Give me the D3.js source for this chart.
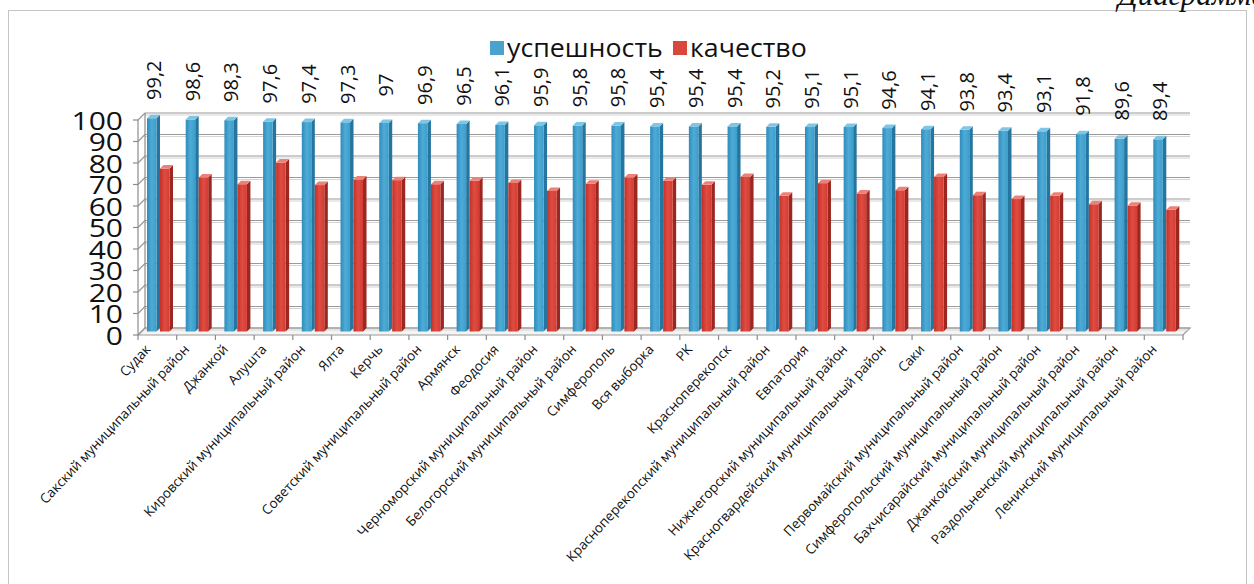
<!DOCTYPE html>
<html lang="ru">
<head>
<meta charset="UTF-8">
<title>успешность и качество</title>
<script src="https://d3js.org/d3.v7.min.js"></script>
<style>
  body { margin: 0; background: #fff; }
  text { font-family: "Open Sans", sans-serif; fill: #111; }
  .grid { stroke: #9a9a9a; stroke-width: 1.2; }
  .grid-shadow { stroke: #d4d4d4; stroke-width: 1.2; }
  .axis-line { stroke: #8c8c8c; stroke-width: 1.2; fill: none; }
</style>
</head>
<body>
<div id="chart"></div>
<script>
const categories = ["Судак", "Сакский муниципальный район", "Джанкой", "Алушта", "Кировский муниципальный район",
  "Ялта", "Керчь", "Советский муниципальный район", "Армянск", "Феодосия", "Черноморский муниципальный район",
  "Белогорский муниципальный район", "Симферополь", "Вся выборка", "РК", "Красноперекопск",
  "Красноперекопский муниципальный район", "Евпатория", "Нижнегорский муниципальный район",
  "Красногвардейский муниципальный район", "Саки", "Первомайский муниципальный район",
  "Симферопольский муниципальный район", "Бахчисарайский муниципальный район", "Джанкойский муниципальный район",
  "Раздольненский муниципальный район", "Ленинский муниципальный район"];
const uspeh = [99.2, 98.6, 98.3, 97.6, 97.4, 97.3, 97, 96.9, 96.5, 96.1, 95.9, 95.8, 95.8, 95.4, 95.4, 95.4,
  95.2, 95.1, 95.1, 94.6, 94.1, 93.8, 93.4, 93.1, 91.8, 89.6, 89.4];
const kach = [75.8, 71.6, 68.5, 78.6, 68.1, 70.7, 70.4, 68.5, 70.1, 69.1, 65.4, 68.7, 71.6, 70.1, 68.2, 71.9,
  63.1, 69.0, 64.2, 65.7, 71.9, 63.4, 61.6, 63.1, 59.2, 58.5, 56.6];
const seriesNames = ["успешность", "качество"];
const yTicks = [0, 10, 20, 30, 40, 50, 60, 70, 80, 90, 100];

const width = 1254, height = 584;
const svg = d3.select("#chart").append("svg")
  .attr("width", width).attr("height", height);

const defs = svg.append("defs");
function grad(id, stops) {
  const g = defs.append("linearGradient").attr("id", id)
    .attr("x1", "0").attr("x2", "1").attr("y1", "0").attr("y2", "0");
  stops.forEach((c, i) => g.append("stop").attr("offset", i / (stops.length - 1)).attr("stop-color", c));
}
grad("blueFront", ["#2e8cbc", "#4eabd6", "#3d9dca"]);
grad("redFront", ["#c23128", "#e04c42", "#d23c33"]);
const colors = [
  { front: "url(#blueFront)", side: "#25759f", top: "#7fc6e6", legend: "#4aa3cc" },
  { front: "url(#redFront)", side: "#9c2620", top: "#ec8178", legend: "#d9463d" }
];

// рамка и подпись страницы
svg.append("rect")
  .attr("x", 8.5).attr("y", 10.5).attr("width", 1238).attr("height", 600)
  .attr("fill", "none").attr("stroke", "#c4c4c4");
svg.append("text")
  .attr("x", 1118).attr("y", 5)
  .style("font-family", "'Liberation Serif', serif").style("font-style", "italic")
  .attr("font-size", 31).text("Диаграмма");

const x = d3.scaleBand().domain(categories).range([138, 1183]);
const y = d3.scaleLinear().domain([0, 100]).range([335, 120]);
const D = 7;          // глубина коробки
const d = 3.5;        // глубина столбика
const barW = 9.5;
const offs = [9, 22];
const x0 = x.range()[0], x1 = x.range()[1];

// пол
svg.append("path")
  .attr("d", `M${x0},${y(0)} L${x1},${y(0)} L${x1 + D},${y(0) - D} L${x0 + D},${y(0) - D} Z`)
  .attr("fill", "#f4f4f4").attr("stroke", "#9a9a9a").attr("stroke-width", 1.2);

// сетка на задней и левой стенке
yTicks.forEach(v => {
  const yy = y(v) - D;
  svg.append("line").attr("class", "grid-shadow")
    .attr("x1", x0 + D).attr("x2", x1 + D).attr("y1", yy + 2).attr("y2", yy + 2);
  svg.append("line").attr("class", "grid")
    .attr("x1", x0 + D).attr("x2", x1 + D).attr("y1", yy).attr("y2", yy);
  svg.append("line").attr("class", "grid")
    .attr("x1", x0).attr("x2", x0 + D).attr("y1", y(v)).attr("y2", yy);
});
svg.append("line").attr("class", "axis-line")
  .attr("x1", x0 + D).attr("x2", x0 + D).attr("y1", y(0) - D).attr("y2", y(100) - D);

// ось Y
svg.append("line").attr("class", "axis-line")
  .attr("x1", x0).attr("x2", x0).attr("y1", y(0)).attr("y2", y(100));
yTicks.forEach(v => {
  svg.append("line").attr("class", "axis-line")
    .attr("x1", x0 - 5).attr("x2", x0).attr("y1", y(v)).attr("y2", y(v));
  svg.append("text")
    .attr("transform", `translate(${x0 - 15},${y(v)}) scale(1.2,1)`)
    .attr("text-anchor", "end").attr("dominant-baseline", "central")
    .attr("font-size", 25).text(v);
});

// деления оси категорий
categories.concat([null]).forEach((c, i) => {
  const xx = x0 + i * x.bandwidth();
  svg.append("line").attr("class", "axis-line")
    .attr("x1", xx).attr("x2", xx).attr("y1", y(0)).attr("y2", y(0) + 5);
});

// столбики
function bar(cat, v, s) {
  const bx = x(cat) + offs[s];
  const top = y(v) - d, bot = y(0) - d;
  const g = svg.append("g");
  g.append("path")
    .attr("d", `M${bx + barW},${top} L${bx + barW + d},${top - d} L${bx + barW + d},${bot - d} L${bx + barW},${bot} Z`)
    .attr("fill", colors[s].side);
  g.append("rect")
    .attr("x", bx).attr("y", top).attr("width", barW).attr("height", bot - top)
    .attr("fill", colors[s].front);
  g.append("path")
    .attr("d", `M${bx},${top} L${bx + d},${top - d} L${bx + barW + d},${top - d} L${bx + barW},${top} Z`)
    .attr("fill", colors[s].top);
}
categories.forEach((c, i) => {
  bar(c, uspeh[i], 0);
  bar(c, kach[i], 1);
});

// подписи значений
categories.forEach((c, i) => {
  const cx = x(c) + offs[0] + (barW + d) / 2;
  const cy = y(uspeh[i]) - d - 38;
  svg.append("text")
    .attr("transform", `translate(${cx},${cy}) rotate(-90)`)
    .attr("text-anchor", "middle").attr("dominant-baseline", "central")
    .attr("font-size", 20)
    .text(String(uspeh[i]).replace(".", ","));
});

// подписи категорий
categories.forEach(c => {
  const cx = x(c) + x.bandwidth() / 2 - 6;
  svg.append("text")
    .attr("transform", `translate(${cx},${y(0) + 15}) rotate(-47)`)
    .attr("text-anchor", "end")
    .attr("font-size", 13.5)
    .text(c);
});

// легенда
const legendX = [490, 673];
seriesNames.forEach((n, s) => {
  svg.append("rect")
    .attr("x", legendX[s]).attr("y", 41).attr("width", 14).attr("height", 14)
    .attr("fill", colors[s].legend);
  svg.append("text")
    .attr("transform", `translate(${legendX[s] + 17},57) scale(1.07,1)`)
    .attr("font-size", 25).text(n);
});
</script>
</body>
</html>
